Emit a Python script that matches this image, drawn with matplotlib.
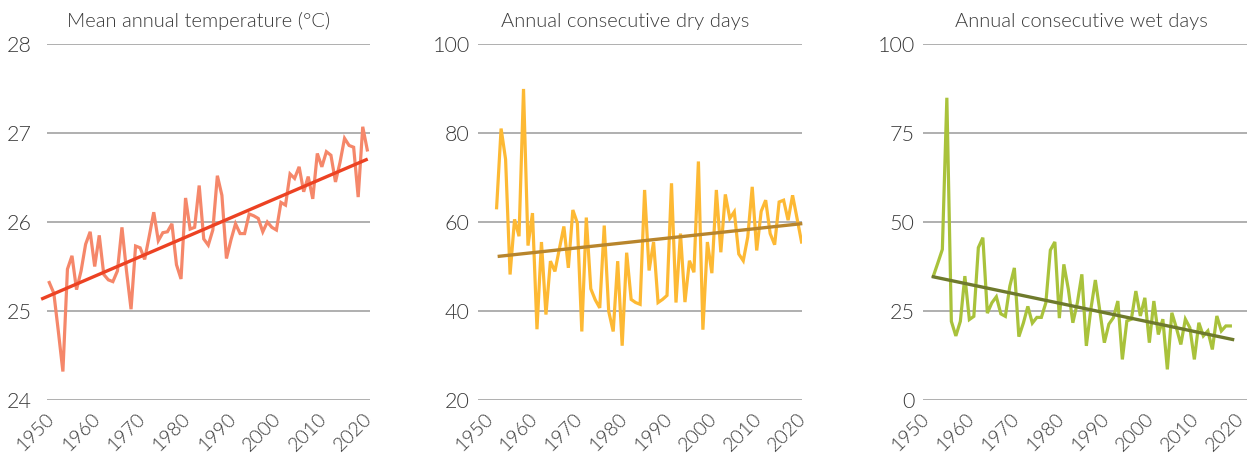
import numpy as np
import matplotlib.pyplot as plt
from matplotlib.transforms import ScaledTranslation

plt.rcParams['font.family'] = ['Lato', 'DejaVu Sans']

# Mean annual temperature, 1950-2020
temp_years = np.arange(1950, 2021)
temp = [25.32, 25.20, 24.77, 24.32, 25.47, 25.62, 25.24, 25.45, 25.75, 25.89,
        25.50, 25.85, 25.41, 25.35, 25.33, 25.45, 25.94, 25.45, 25.02, 25.73,
        25.71, 25.58, 25.84, 26.11, 25.79, 25.88, 25.89, 25.98, 25.52, 25.36,
        26.27, 25.92, 25.94, 26.41, 25.81, 25.74, 25.91, 26.52, 26.30, 25.59,
        25.80, 25.98, 25.87, 25.87, 26.09, 26.07, 26.04, 25.89, 26.00, 25.94,
        25.91, 26.22, 26.19, 26.54, 26.49, 26.62, 26.34, 26.51, 26.26, 26.77,
        26.62, 26.79, 26.75, 26.45, 26.67, 26.94, 26.86, 26.84, 26.28, 27.07,
        26.81]
temp_trend_x = [1948.55, 2019.76]
temp_trend_y = [25.14, 26.70]

# Annual consecutive dry days, 1952-2020
dry_years = np.arange(1952, 2021)
dry = [63.2, 81.0, 74.1, 48.2, 60.6, 56.8, 89.9, 54.7, 62.0, 35.9,
       55.5, 39.2, 51.2, 48.9, 54.0, 59.0, 49.7, 62.7, 59.8, 35.4,
       61.0, 45.0, 42.5, 40.7, 59.2, 39.9, 35.4, 51.2, 32.2, 53.1,
       42.6, 41.9, 41.5, 67.2, 49.1, 55.5, 41.9, 42.6, 43.5, 68.7,
       41.9, 57.4, 42.0, 51.3, 48.7, 73.6, 35.8, 55.5, 48.5, 67.2,
       53.2, 66.2, 60.8, 62.3, 52.8, 51.3, 56.6, 67.9, 53.6, 62.4,
       64.9, 57.4, 54.9, 64.5, 64.9, 60.4, 66.0, 60.8, 55.5]
dry_trend_x = [1952.6, 2019.8]
dry_trend_y = [52.3, 59.6]

# Annual consecutive wet days, 1952-2018
wet_years = np.arange(1952, 2019)
wet = [34.8, 38.5, 42.3, 84.9, 22.1, 18.0, 22.1, 34.8, 22.6, 23.5,
       42.8, 45.6, 24.4, 27.3, 29.0, 24.2, 23.5, 32.0, 37.1, 17.8,
       21.6, 26.3, 21.6, 23.2, 23.2, 27.3, 42.1, 44.4, 23.0, 38.1,
       31.1, 21.7, 27.3, 35.3, 15.2, 25.5, 33.7, 25.0, 16.1, 21.3,
       23.1, 27.8, 11.4, 22.2, 22.7, 30.6, 23.6, 28.7, 16.1, 27.8,
       18.4, 22.7, 8.6, 24.5, 20.3, 15.6, 22.7, 20.3, 11.4, 21.7,
       18.0, 19.4, 14.2, 23.6, 19.4, 20.8, 20.8]
wet_trend_x = [1952.0, 2018.5]
wet_trend_y = [34.6, 17.0]

year_ticks = np.arange(1950, 2021, 10)

panels = [
    dict(title='Mean annual temperature (°C)', x=temp_years, y=temp,
         tx=temp_trend_x, ty=temp_trend_y, line='#F5876A', trend='#EC4223',
         yticks=[24, 25, 26, 27, 28], xlim=(1949.5, 2020.6),
         rect=[47 / 1249, 57 / 457, 323 / 1249, 356 / 457], pad=11, tpos=0.47),
    dict(title='Annual consecutive dry days', x=dry_years, y=dry,
         tx=dry_trend_x, ty=dry_trend_y, line='#FDB934', trend='#B8852C',
         yticks=[20, 40, 60, 80, 100], xlim=(1947.85, 2020.1),
         rect=[478 / 1249, 57 / 457, 324 / 1249, 356 / 457], pad=6, tpos=0.455),
    dict(title='Annual consecutive wet days', x=wet_years, y=wet,
         tx=wet_trend_x, ty=wet_trend_y, line='#A9C23B', trend='#6E7A2C',
         yticks=[0, 25, 50, 75, 100], xlim=(1949.7, 2021.7),
         rect=[923 / 1249, 57 / 457, 324 / 1249, 356 / 457], pad=6, tpos=0.488),
]

fig = plt.figure(figsize=(12.49, 4.57), dpi=100)

for p in panels:
    ax = fig.add_axes(p['rect'])
    ax.plot(p['x'], p['y'], color=p['line'], lw=2.3, solid_joinstyle='miter', zorder=3)
    ax.plot(p['tx'], p['ty'], color=p['trend'], lw=2.4, clip_on=False, zorder=4)
    ax.set_xlim(p['xlim'])
    ax.set_ylim(p['yticks'][0], p['yticks'][-1])
    ax.set_yticks(p['yticks'])
    ax.set_xticks(year_ticks)
    ax.yaxis.grid(True, color='#9a9a9a', lw=1.1)
    ax.set_axisbelow(True)
    for s in ax.spines.values():
        s.set_visible(False)
    ax.tick_params(length=0, labelsize=15.5, labelcolor='#3a3a3a')
    ax.tick_params(axis='y', pad=p['pad'])
    ax.tick_params(axis='x', pad=7.5, labelsize=14)
    for lbl in ax.get_yticklabels():
        lbl.set_fontweight(300)
    for lbl in ax.get_xticklabels():
        lbl.set_rotation(45)
        lbl.set_ha('right')
        lbl.set_va('top')
        lbl.set_fontweight(300)
        lbl.set_transform(lbl.get_transform() + ScaledTranslation(8 / 100, 0, fig.dpi_scale_trans))
    ax.set_title(p['title'], fontsize=14.5, color='#3a3a3a', fontweight=300,
                 x=p['tpos'], pad=12)

plt.savefig('out.png', dpi=100)
